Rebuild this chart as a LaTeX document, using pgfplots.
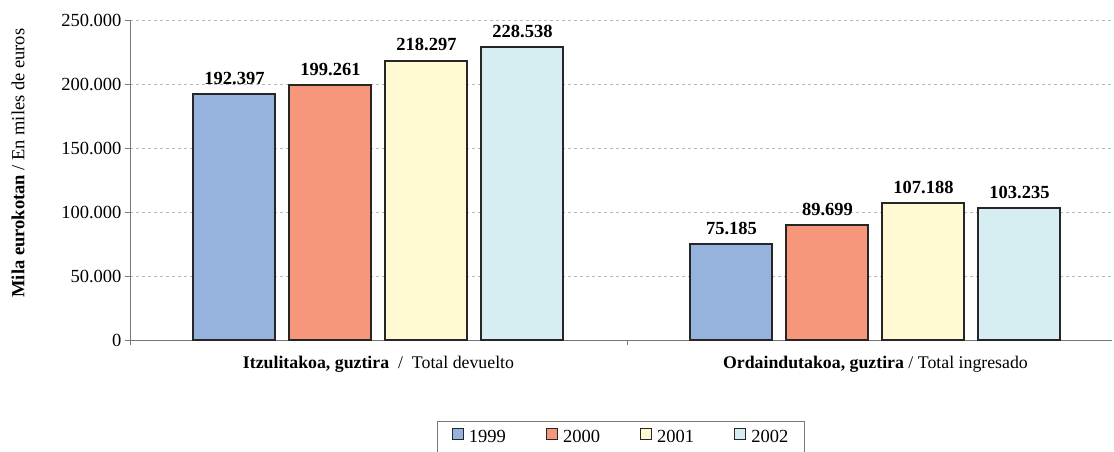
\documentclass[border=0pt]{standalone}
\usepackage{fontspec}
\setmainfont{Liberation Serif}
\usepackage{pgfplots}
\pgfplotsset{compat=1.18}
\definecolor{c1}{RGB}{149,179,220}
\definecolor{c2}{RGB}{246,150,122}
\definecolor{c3}{RGB}{255,250,212}
\definecolor{c4}{RGB}{214,237,242}
\definecolor{axgray}{RGB}{120,120,120}
\begin{document}
\begin{tikzpicture}
\begin{axis}[
 scale only axis, width=982pt, height=320pt,
 xmin=-0.5, xmax=1.476, ymin=0, ymax=250000,
 ybar=14pt, bar width=82pt,
 clip=false,
 axis x line*=bottom, axis y line*=left,
 axis line style={draw=axgray, line width=0.8pt},
 ytick={0,50000,100000,150000,200000,250000},
 scaled y ticks=false,
 yticklabel style={/pgf/number format/fixed, /pgf/number format/1000 sep={.}, /pgf/number format/assume math mode=true, font=\fontsize{18.5}{21}\selectfont},
 ymajorgrids, grid style={dashed, gray!55, line width=0.6pt},
 xtick={0,1},
 xticklabels={{\textbf{Itzulitakoa, guztira}\ \ /\ \ Total devuelto},{\textbf{Ordaindutakoa, guztira} / Total ingresado}},
 major x tick style={draw=none},
 minor xtick={-0.5,0.5},
 tick align=outside, major tick length=5pt, minor tick length=5pt,
 tick style={draw=axgray, line width=0.8pt},
 xticklabel style={yshift=-8pt, font=\fontsize{17.8}{21}\selectfont},
 ylabel={\textbf{Mila eurokotan} / En miles de euros},
 ylabel style={at={(axis description cs:-0.114,0.553)}, anchor=center, font=\fontsize{18.5}{21}\selectfont},
 nodes near coords,
 nodes near coords style={font=\bfseries\fontsize{18.5}{21}\selectfont, /pgf/number format/fixed, /pgf/number format/1000 sep={.}, /pgf/number format/assume math mode=true, yshift=5pt, black},
 legend image code/.code={\draw[#1, line width=1.2pt, draw=black!85] (0pt,-2pt) rectangle (11pt,9pt);},
 legend columns=4,
 legend style={at={(0.5,-0.253)}, anchor=north, draw=axgray, line width=0.6pt, font=\fontsize{18.5}{21}\selectfont,
   /tikz/every odd column/.append style={column sep=3pt},
   /tikz/every even column/.append style={column sep=38pt}, inner xsep=14pt, inner ysep=6.5pt},
]
\addplot[fill=c1, draw=black!85, line width=2pt] coordinates {(0,192397) (1,75185)};
\addplot[fill=c2, draw=black!85, line width=2pt] coordinates {(0,199261) (1,89699)};
\addplot[fill=c3, draw=black!85, line width=2pt] coordinates {(0,218297) (1,107188)};
\addplot[fill=c4, draw=black!85, line width=2pt] coordinates {(0,228538) (1,103235)};
\legend{1999,2000,2001,2002}
\coordinate (bl) at (rel axis cs:0,0);
\end{axis}
\pgfresetboundingbox
\path[use as bounding box] ([xshift=-130pt,yshift=-112pt]bl) rectangle ([xshift=984pt,yshift=340pt]bl);
\end{tikzpicture}
\end{document}
